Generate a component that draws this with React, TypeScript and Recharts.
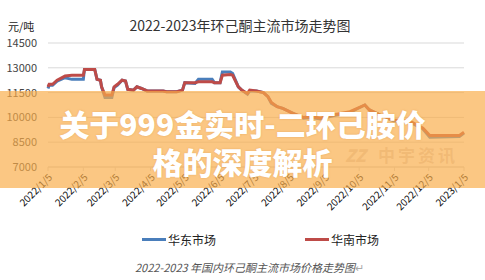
import { LineChart, Line, XAxis, YAxis, CartesianGrid, Legend } from 'recharts'

const dates = [
  '2022-01-05', '2022-01-06', '2022-01-09', '2022-01-13', '2022-01-20', '2022-01-26', '2022-02-05', '2022-02-06',
  '2022-02-15', '2022-02-17', '2022-02-20', '2022-02-21', '2022-02-24', '2022-03-02', '2022-03-04', '2022-03-07',
  '2022-03-11', '2022-03-14', '2022-03-16', '2022-03-21', '2022-03-24', '2022-03-28', '2022-04-02', '2022-04-16',
  '2022-04-19', '2022-04-28', '2022-05-03', '2022-05-05', '2022-05-14', '2022-05-17', '2022-05-29', '2022-05-31',
  '2022-06-05', '2022-06-07', '2022-06-14', '2022-06-16', '2022-06-21', '2022-06-24', '2022-06-29', '2022-07-01',
  '2022-07-07', '2022-07-13', '2022-07-17', '2022-07-20', '2022-07-25', '2022-07-30', '2022-08-08', '2022-08-17',
  '2022-08-24', '2022-09-01', '2022-09-12', '2022-09-27', '2022-10-10', '2022-10-14', '2022-10-23', '2022-11-04',
  '2022-11-19', '2022-11-30', '2022-12-06', '2023-01-01', '2023-01-05',
]

// 华东市场
const eastPrices = [
  11750, 11950, 11950, 12200, 12400, 12300, 12300, 12900,
  12900, 12300, 12250, 11850, 11200, 11200, 11800, 11950,
  12250, 12200, 11700, 11650, 11850, 11750, 11600, 11600,
  11550, 11550, 11650, 12100, 12050, 12300, 12300, 12100,
  12100, 12750, 12750, 12650, 11850, 11650, 11400, 11600,
  11600, 11500, 11250, 10850, 10650, 10550, 10250, 9950,
  10000, 9900, 10100, 10300, 10750, 10450, 10150, 9800,
  9700, 9300, 8800, 8850, 9050,
]

// 华南市场
const southPrices = [
  11850, 12000, 12000, 12250, 12500, 12550, 12550, 12900,
  12900, 12300, 12250, 11850, 11350, 11350, 11850, 12000,
  12250, 12200, 11700, 11650, 11850, 11750, 11600, 11600,
  11550, 11550, 11650, 12100, 12100, 12150, 12150, 12100,
  12100, 12550, 12600, 12550, 11850, 11650, 11450, 11650,
  11600, 11500, 11250, 10900, 10650, 10550, 10250, 10000,
  10050, 9950, 10150, 10350, 10750, 10450, 10150, 9850,
  9750, 9350, 8900, 8900, 9100,
]

const tickDates = [
  '2022-01-05', '2022-02-05', '2022-03-05', '2022-04-05', '2022-05-05', '2022-06-05', '2022-07-05',
  '2022-08-05', '2022-09-05', '2022-10-05', '2022-11-05', '2022-12-05', '2023-01-05',
]
const tickLabels = [
  '2022/1/5', '2022/2/5', '2022/3/5', '2022/4/5', '2022/5/5', '2022/6/5', '2022/7/5',
  '2022/8/5', '2022/9/5', '2022/10/5', '2022/11/5', '2022/12/5', '2023/1/5',
]
const yTicks = [7000, 8500, 10000, 11500, 13000, 14500]

const DAY = 86400000
const start = Date.parse(dates[0])
const dayOf = (d: string) => Math.round((Date.parse(d) - start) / DAY)

const data = dates.map((d, i) => ({ t: dayOf(d), east: eastPrices[i], south: southPrices[i] }))
const xTicks = tickDates.map(dayOf)

const FONT = '"Noto Sans CJK SC", "Microsoft YaHei", sans-serif'

function LegendContent({ payload }: any) {
  return (
    <div style={{ position: 'relative', height: 20, fontFamily: FONT, fontSize: 12, color: '#222' }}>
      {(payload || []).map((p: any, i: number) => (
        <div key={p.value} style={{ position: 'absolute', left: i === 0 ? 142 : 305, top: 0, display: 'flex', alignItems: 'center' }}>
          <span style={{ display: 'inline-block', width: 24, height: 3, background: p.color, marginRight: 2 }} />
          <span>{p.value}</span>
        </div>
      ))}
    </div>
  )
}

export default function App() {
  return (
    <div style={{ position: 'relative', width: 485, height: 280, background: '#fff', overflow: 'hidden', fontFamily: FONT }}>
      <style>{'body{margin:0}'}</style>
      <div style={{ position: 'absolute', left: 0, top: 15, width: 480, textAlign: 'center', fontSize: 14, color: '#333' }}>
        2022-2023年环己酮主流市场走势图
      </div>
      <div style={{ position: 'absolute', left: 8, top: 19, fontSize: 11, lineHeight: '14px', color: '#222' }}>元/吨</div>
      <LineChart width={485} height={280} data={data} margin={{ top: 43, right: 21, bottom: 33, left: 0 }}>
        <CartesianGrid horizontal vertical={false} stroke="#d9d9d9" />
        <XAxis
          dataKey="t"
          type="number"
          domain={[0, 365]}
          ticks={xTicks}
          tickFormatter={(v: number) => tickLabels[xTicks.indexOf(v)]}
          interval={0}
          angle={-45}
          textAnchor="end"
          height={60}
          tickSize={4}
          tickMargin={2}
          stroke="#d9d9d9"
          tick={{ fontSize: 10, fill: '#111', fontFamily: FONT }}
        />
        <YAxis
          type="number"
          domain={[7000, 14500]}
          ticks={yTicks}
          width={48}
          axisLine={false}
          tickLine={false}
          tickMargin={5}
          tick={{ fontSize: 11, fill: '#444', fontFamily: FONT }}
        />
        <Legend
          verticalAlign="bottom"
          content={<LegendContent />}
          wrapperStyle={{ position: 'absolute', left: 0, top: 231, width: 485 }}
        />
        <Line dataKey="east" name="华东市场" type="linear" stroke="#4a7ebb" strokeWidth={3} dot={false} isAnimationActive={false} />
        <Line dataKey="south" name="华南市场" type="linear" stroke="#be4b48" strokeWidth={3} dot={false} isAnimationActive={false} />
      </LineChart>
      <div style={{ position: 'absolute', left: 135, top: 259, fontSize: 11, fontStyle: 'italic', color: '#555' }}>
        2022-2023 年国内环己酮主流市场价格走势图<span style={{ color: '#aaa', fontStyle: 'normal' }}>↵</span>
      </div>
      <div style={{ position: 'absolute', left: 0, top: 91, width: 485, height: 97, background: 'rgba(249,172,72,0.68)' }} />
      <div style={{ position: 'absolute', left: 345, top: 146, fontSize: 17, lineHeight: '18px', fontWeight: 900, fontStyle: 'italic', color: 'rgba(200,130,60,0.2)' }}>
        ZZ
      </div>
      <div style={{ position: 'absolute', left: 378, top: 146, fontSize: 17, lineHeight: '18px', fontWeight: 700, color: 'rgba(200,130,60,0.2)', letterSpacing: 3 }}>
        中宇资讯
      </div>
      <div
        style={{
          position: 'absolute', left: 0, top: 104, width: 485, textAlign: 'center', color: '#fff',
          fontSize: 30, fontWeight: 900, lineHeight: '38px', textShadow: '0 0 2px rgba(200,120,40,0.4)',
        }}
      >
        关于999金实时-二环己胺价<br />格的深度解析
      </div>
    </div>
  )
}
